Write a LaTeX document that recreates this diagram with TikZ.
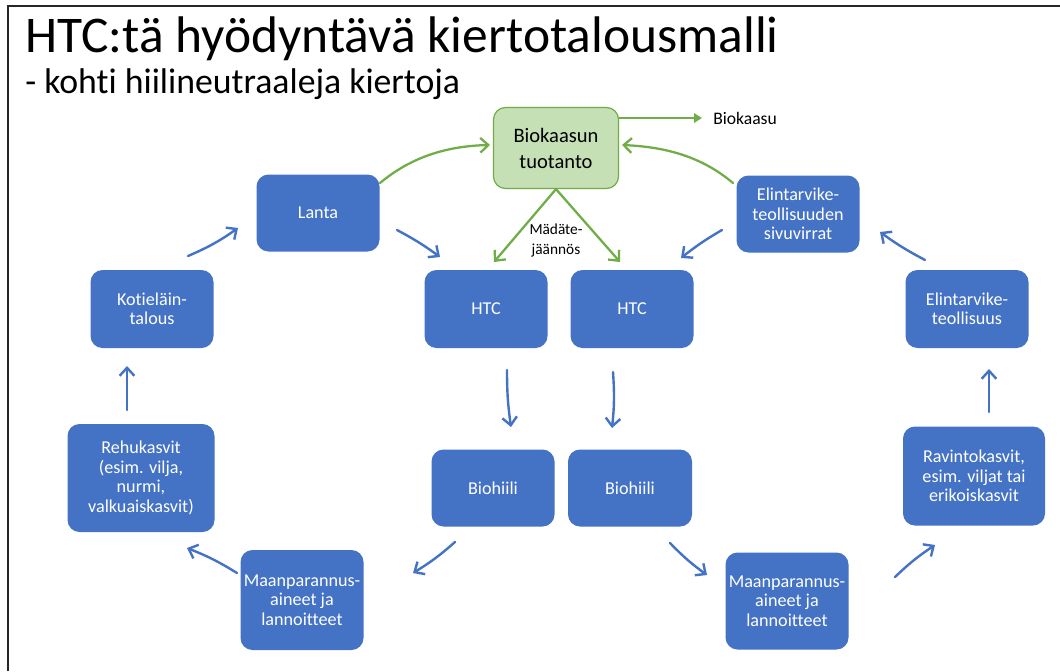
\documentclass[tikz,border=0pt]{standalone}
\usepackage{fontspec}
\setmainfont{Carlito}[Ligatures=NoCommon]
\usetikzlibrary{arrows.meta}
\definecolor{boxblue}{HTML}{4472C4}
\definecolor{leafgreen}{HTML}{70AD47}
\definecolor{palegreen}{HTML}{C5E0B4}
\begin{document}
\begin{tikzpicture}[x=0.75pt,y=-0.75pt,
  sz/.style 2 args={minimum width=#1*0.75pt, minimum height=#2*0.75pt},
  bluebox/.style={rounded corners=9pt, fill=boxblue, text=white, align=center,
    inner sep=0pt, font=\fontsize{13.6}{14.6}\selectfont},
  gasbox/.style={rounded corners=9pt, fill=palegreen, draw=leafgreen, line width=0.9pt,
    text=black, align=center, inner sep=0pt, font=\fontsize{15.4}{19.5}\selectfont},
  flow/.style={draw=boxblue, line width=1.8pt, line cap=round,
    -{Straight Barb[length=6pt,width=11pt,line width=1.8pt]}},
  gasflow/.style={draw=leafgreen, line width=1.7pt, line cap=round,
    -{Straight Barb[length=6pt,width=11pt,line width=1.7pt]}},
  gasout/.style={draw=leafgreen, line width=1.6pt,
    -{Triangle[length=6pt,width=7pt]}},
  smalltext/.style={text=black, inner sep=0pt},
]
\useasboundingbox (0,0) rectangle (1060,671);
\fill[white] (0,0) rectangle (1060,671);

% slide frame
\draw[line width=1.6pt, black!85] (8,671) -- (8,6) -- (1060,6);

% headings
\node[anchor=base west, inner sep=0pt, font=\fontsize{38.6}{44}\selectfont] (title) at (25,52)
  {HTC:tä hyödyntävä kiertotalousmalli};
\node[anchor=base west, inner sep=0pt, font=\fontsize{26.8}{32}\selectfont] (subtitle) at (25,93)
  {- kohti hiilineutraaleja kiertoja};

% process boxes
\node[gasbox, sz={125}{81}] (gas) at (556,148) {Biokaasun\\tuotanto};
\node[bluebox, sz={123}{77}] (lanta) at (318,213) {Lanta};
\node[bluebox, sz={123}{78}] (kotiel) at (152,309) {Kotieläin-\\talous};
\node[bluebox, sz={123}{78}] (htcL) at (486,309) {HTC};
\node[bluebox, sz={123}{78}] (htcR) at (632,309) {HTC};
\node[bluebox, sz={123}{77}] (sivu) at (798,214) {Elintarvike-\\teollisuuden\\sivuvirrat};
\node[bluebox, sz={123}{78}] (elin) at (967,309) {Elintarvike-\\teollisuus};
\node[bluebox, sz={147}{108}] (rehu) at (141,478) {Rehukasvit\\(esim. vilja,\\nurmi,\\valkuaiskasvit)};
\node[bluebox, sz={123}{77}] (biohL) at (493,488) {Biohiili};
\node[bluebox, sz={124}{77}] (biohR) at (630,488) {Biohiili};
\node[bluebox, sz={142}{99}] (ravinto) at (974,476) {Ravintokasvit,\\esim. viljat tai\\erikoiskasvit};
\node[bluebox, sz={123}{100}] (maanL) at (302,600) {Maanparannus-\\aineet ja\\lannoitteet};
\node[bluebox, sz={123}{97}] (maanR) at (787,601) {Maanparannus-\\aineet ja\\lannoitteet};

% labels
\node[smalltext, anchor=west, font=\fontsize{13.2}{14}\selectfont] (gaslabel) at (713,118) {Biokaasu};
\node[smalltext, align=center, font=\fontsize{11.5}{15}\selectfont] (digestate) at (556,240) {Mädäte-\\jäännös};

% arrow end points
\coordinate (a1s) at (188,256);  \coordinate (a1e) at (238,228);
\coordinate (a2s) at (397,230);  \coordinate (a2e) at (440,257);
\coordinate (a3s) at (722,230);  \coordinate (a3e) at (681,258);
\coordinate (a4s) at (925,260);  \coordinate (a4e) at (880,232);
\coordinate (a5s) at (127,410);  \coordinate (a5e) at (127,366);
\coordinate (a6s) at (237,573);  \coordinate (a6e) at (187,548);
\coordinate (a7s) at (455,542);  \coordinate (a7e) at (413,573);
\coordinate (a8s) at (507,370);  \coordinate (a8e) at (511,427);
\coordinate (a9s) at (613,372);  \coordinate (a9e) at (612,428);
\coordinate (a10s) at (670,543); \coordinate (a10e) at (707,575);
\coordinate (a11s) at (895,577); \coordinate (a11e) at (935,545);
\coordinate (a12s) at (989,412); \coordinate (a12e) at (989,369);

% material flows
\draw[flow] (a1s) to[bend right=6] (a1e);
\draw[flow] (a2s) to[bend left=4] (a2e);
\draw[flow] (a3s) to[bend right=4] (a3e);
\draw[flow] (a4s) to[bend left=4] (a4e);
\draw[flow] (a5s) -- (a5e);
\draw[flow] (a6s) to[bend right=5] (a6e);
\draw[flow] (a7s) to[bend left=5] (a7e);
\draw[flow] (a8s) to[bend right=4] (a8e);
\draw[flow] (a9s) to[bend left=5] (a9e);
\draw[flow] (a10s) to[bend right=5] (a10e);
\draw[flow] (a11s) to[bend left=5] (a11e);
\draw[flow] (a12s) -- (a12e);

% biogas flows
\coordinate (g1s) at (380,183);
\coordinate (g2s) at (733,183);
\coordinate (g1e) at (490,145);
\coordinate (g2e) at (622,145);
\draw[gasflow] (g1s) .. controls (410,158) and (445,146) .. (g1e);
\draw[gasflow] (g2s) .. controls (702,157) and (667,147) .. (g2e);
\draw[gasout] (gas.east |- 0,118) -- (702,118);
\coordinate (d1) at (494,262);
\coordinate (d2) at (620,262);
\draw[gasflow] (gas.south) -- (d1);
\draw[gasflow] (gas.south) -- (d2);
\end{tikzpicture}
\end{document}
